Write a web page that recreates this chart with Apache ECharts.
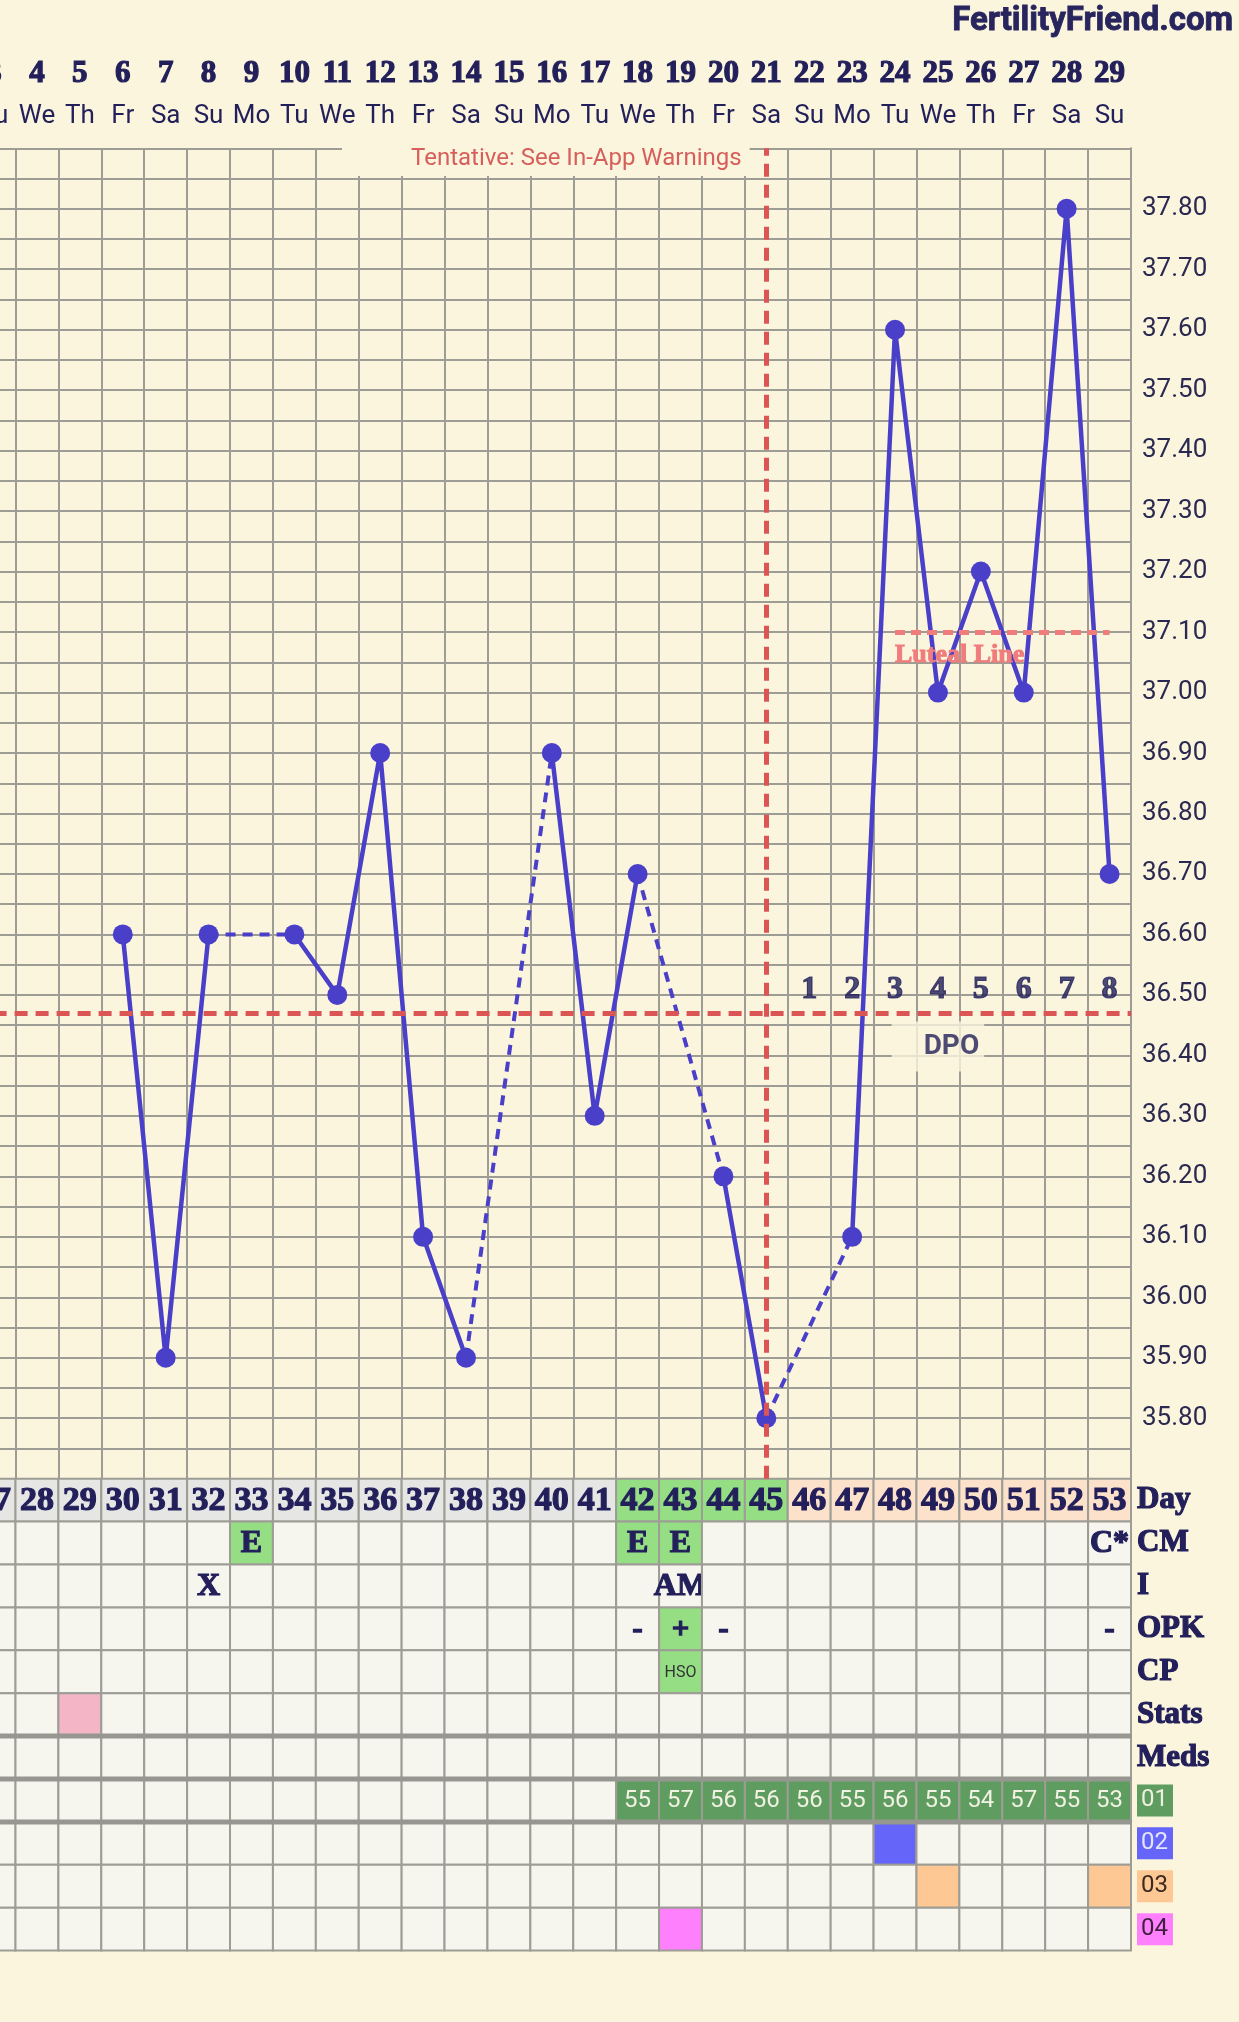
<!DOCTYPE html>
<html>
<head>
<meta charset="utf-8">
<title>Fertility chart</title>
<script src="https://cdn.jsdelivr.net/npm/echarts@6/dist/echarts.min.js"></script>
<style>
  html, body { margin: 0; padding: 0; background: #faf5dc; }
  #chart { width: 1239px; height: 2022px; }
</style>
</head>
<body>
<div id="chart"></div>
<script>
// cycle days on screen (day 27 is cut by the left edge)
const cycleDays = ['27', '28', '29', '30', '31', '32', '33', '34', '35', '36', '37', '38', '39', '40',
  '41', '42', '43', '44', '45', '46', '47', '48', '49', '50', '51', '52', '53'];
const dates = ['3', '4', '5', '6', '7', '8', '9', '10', '11', '12', '13', '14', '15', '16',
  '17', '18', '19', '20', '21', '22', '23', '24', '25', '26', '27', '28', '29'];
const weekdays = ['Tu', 'We', 'Th', 'Fr', 'Sa', 'Su', 'Mo', 'Tu', 'We', 'Th', 'Fr', 'Sa', 'Su', 'Mo',
  'Tu', 'We', 'Th', 'Fr', 'Sa', 'Su', 'Mo', 'Tu', 'We', 'Th', 'Fr', 'Sa', 'Su'];
// temperatures, null = not recorded
const temps = [null, null, null, 36.6, 35.9, 36.6, null, 36.6, 36.5, 36.9, 36.1, 35.9, null, 36.9,
  36.3, 36.7, null, 36.2, 35.8, null, 36.1, 37.6, 37.0, 37.2, 37.0, 37.8, 36.7];

const coverline = 36.47;
const ovulationDay = 45;
const fertileStart = 42;
const lutealLevel = 37.1;
const lutealRange = ['48', '53'];

// table rows
const rowNames = ['Day', 'CM', 'I', 'OPK', 'CP', 'Stats', 'Meds', '01', '02', '03', '04'];
const cervicalMucus = [[33, 'E'], [42, 'E'], [43, 'E'], [53, 'C*']];
const intercourse = [[32, 'X'], [43, 'AM']];
const opk = [[42, '-'], [43, '+'], [44, '-'], [53, '-']];
const cervix = [[43, 'HSO']];
const statsDays = [29];
const med01 = [[42, 55], [43, 57], [44, 56], [45, 56], [46, 56], [47, 55], [48, 56], [49, 55],
  [50, 54], [51, 57], [52, 55], [53, 53]];
const med02 = [48];
const med03 = [49, 53];
const med04 = [43];

const navy = '#221f5a';
const gridColor = '#9d9d95';
const pageBg = '#faf5dc';
const cellBg = '#f6f6ef';
const green = '#95de84';
const blue = '#4a3fc9';
const serif = "'Liberation Serif', 'DejaVu Serif', serif";

const lookup = (list, day) => {
  const hit = list.find(e => e[0] === day);
  return hit ? hit[1] : null;
};

const cellFonts = {
  day: { font: 'bold 34px ' + serif, color: navy, stroke: 1.2 },
  big: { font: 'bold 32px ' + serif, color: navy, stroke: 1.2 },
  opk: { font: 'bold 30px ' + serif, color: navy, stroke: 1.5 },
  cp: { font: '16px Roboto', color: '#333333', stroke: 0 },
  med: { font: '24px Roboto', color: '#f1f2e4', stroke: 0 }
};

const cells = [];
cycleDays.forEach((d, i) => {
  const day = +d;
  const add = (row, fill, text, kind) => cells.push({ value: [i, row], fill, text, kind });
  add(0, day < fertileStart ? '#e6e6e4' : day <= ovulationDay ? green : '#fde2cb', d, 'day');
  const cm = lookup(cervicalMucus, day);
  add(1, cm === 'E' ? green : cellBg, cm, 'big');
  add(2, cellBg, lookup(intercourse, day), 'big');
  const o = lookup(opk, day);
  add(3, o === '+' ? green : cellBg, o, 'opk');
  const cp = lookup(cervix, day);
  add(4, cp ? green : cellBg, cp, 'cp');
  add(5, statsDays.includes(day) ? '#f4b5c6' : cellBg, null);
  add(6, cellBg, null);
  const m1 = lookup(med01, day);
  add(7, m1 != null ? '#5f9c5f' : cellBg, m1 != null ? String(m1) : null, 'med');
  add(8, med02.includes(day) ? '#6565fa' : cellBg, null);
  add(9, med03.includes(day) ? '#fec894' : cellBg, null);
  add(10, med04.includes(day) ? '#ff80fc' : cellBg, null);
});
const heavyTopRows = [6, 7, 8];

function renderCell(params, api) {
  const cell = cells[params.dataIndex];
  const c = api.coord([api.value(0), api.value(1)]);
  const s = api.size([1, 1]);
  const x0 = c[0] - s[0] / 2;
  const y0 = c[1] - s[1] / 2;
  const children = [{
    type: 'rect',
    shape: { x: x0, y: y0, width: s[0], height: s[1] },
    style: { fill: cell.fill, stroke: gridColor, lineWidth: 2 }
  }];
  if (cell.text) {
    const f = cellFonts[cell.kind];
    children.push({
      type: 'text',
      style: {
        text: cell.text, x: c[0], y: c[1] + 1, align: 'center', verticalAlign: 'middle',
        font: f.font, fill: f.color, stroke: f.stroke ? f.color : null, lineWidth: f.stroke
      }
    });
  }
  if (heavyTopRows.includes(cell.value[1])) {
    children.push({
      type: 'line',
      shape: { x1: x0 - 1, y1: y0, x2: x0 + s[0] + 1, y2: y0 },
      style: { stroke: '#979791', lineWidth: 5 }
    });
  }
  return { type: 'group', children };
}

// dashed joins across missing temperatures
const gapSeries = [];
for (let i = 1; i < temps.length - 1; i++) {
  if (temps[i] !== null || temps[i - 1] === null) continue;
  let j = i;
  while (j < temps.length && temps[j] === null) j++;
  if (j < temps.length) {
    gapSeries.push({
      type: 'line',
      xAxisIndex: 0,
      yAxisIndex: 0,
      z: 2,
      symbol: 'none',
      connectNulls: true,
      silent: true,
      data: temps.map((t, k) => (k === i - 1 || k === j ? t : null)),
      lineStyle: { color: blue, width: 4, type: [10, 7] }
    });
  }
}

const dpoDays = cycleDays.filter(d => +d > ovulationDay);

const chart = echarts.init(document.getElementById('chart'));
chart.setOption({
  backgroundColor: pageBg,
  animation: false,
  textStyle: { fontFamily: 'Roboto' },
  title: [
    {
      text: 'FertilityFriend.com', right: 5, top: 5, padding: 0,
      textStyle: {
        fontFamily: 'Roboto', fontWeight: 'bold', fontSize: 33, lineHeight: 33, color: '#27245e',
        textBorderColor: '#27245e', textBorderWidth: 0.8
      }
    },
    {
      text: 'Tentative: See In-App Warnings', left: 342, top: 145,
      backgroundColor: pageBg, padding: [1, 8, 4, 69],
      textStyle: { fontFamily: 'Roboto', fontWeight: 'normal', fontSize: 24, lineHeight: 26, color: '#d65f5c' }
    }
  ],
  grid: [
    { left: -27.4, top: 148.3, width: 1158.4, height: 1330.4, containLabel: false, outerBoundsMode: 'none' },
    { left: -27.4, top: 1478.7, width: 1158.4, height: 471.9, containLabel: false, outerBoundsMode: 'none' }
  ],
  xAxis: [
    {
      type: 'category', gridIndex: 0, data: cycleDays, position: 'top',
      axisLine: { show: false }, axisTick: { show: false },
      axisLabel: { interval: 0, margin: 19, formatter: (v, i) => weekdays[i], fontFamily: 'Roboto', fontSize: 26, color: navy },
      splitLine: { show: true, interval: 0, lineStyle: { color: gridColor, width: 2 } }
    },
    {
      type: 'category', gridIndex: 0, data: cycleDays, position: 'top',
      axisLine: { show: false }, axisTick: { show: false },
      axisLabel: {
        interval: 0, margin: 59, formatter: (v, i) => dates[i], fontFamily: serif, fontWeight: 'bold', fontSize: 31,
        color: navy, textBorderColor: navy, textBorderWidth: 1.2
      },
      splitLine: { show: false }
    },
    { type: 'category', gridIndex: 1, data: cycleDays, show: false }
  ],
  yAxis: [
    {
      type: 'value', gridIndex: 0, min: 35.7, max: 37.9, interval: 0.05, position: 'right',
      axisLine: { show: true, lineStyle: { color: gridColor, width: 2 } },
      axisTick: { show: false },
      axisLabel: {
        margin: 11, fontFamily: 'Roboto', fontSize: 26, color: '#2b2952',
        formatter: v => {
          const k = Math.round(v * 100);
          return k % 10 === 0 && k >= 3580 && k <= 3780 ? (k / 100).toFixed(2) : '';
        }
      },
      splitLine: { show: true, lineStyle: { color: gridColor, width: 2 } }
    },
    {
      type: 'category', gridIndex: 1, data: rowNames, inverse: true, position: 'right',
      axisLine: { show: false }, axisTick: { show: false }, splitLine: { show: false },
      axisLabel: {
        interval: 0, margin: 6,
        formatter: v => (v.charAt(0) === '0' ? '{m' + v + '|' + v + '}' : '{h|' + v + '}'),
        rich: {
          h: { fontFamily: serif, fontWeight: 'bold', fontSize: 31, color: navy, textBorderColor: navy, textBorderWidth: 1.2 },
          m01: { fontFamily: 'Roboto', fontSize: 24, color: '#eef0e0', backgroundColor: '#5f9c5f', padding: [4, 5, 4, 4] },
          m02: { fontFamily: 'Roboto', fontSize: 24, color: '#e4e4ff', backgroundColor: '#6565fa', padding: [4, 5, 4, 4] },
          m03: { fontFamily: 'Roboto', fontSize: 24, color: '#3b2a1f', backgroundColor: '#fec894', padding: [4, 5, 4, 4] },
          m04: { fontFamily: 'Roboto', fontSize: 24, color: '#3e1f40', backgroundColor: '#ff80fc', padding: [4, 5, 4, 4] }
        }
      }
    }
  ],
  series: [
    {
      // reference lines
      type: 'line', xAxisIndex: 0, yAxisIndex: 0, z: 1, silent: true,
      data: cycleDays.map(() => null),
      markLine: {
        silent: true, symbol: ['none', 'none'], animation: false,
        label: { show: false },
        data: [
          { xAxis: String(ovulationDay), lineStyle: { color: '#dc5555', width: 5, type: [13, 8] } },
          { yAxis: coverline, lineStyle: { color: '#dc5555', width: 5, type: [13, 8] } },
          [
            {
              coord: [lutealRange[0], lutealLevel],
              lineStyle: { color: '#f07c7c', width: 5, type: [10, 6] },
              label: {
                show: true, formatter: 'Luteal Line', position: 'insideStartBottom', distance: [0, 10],
                color: '#f07c7c', fontFamily: serif, fontWeight: 'bold', fontSize: 26,
                textBorderColor: '#f07c7c', textBorderWidth: 1
              }
            },
            { coord: [lutealRange[1], lutealLevel] }
          ]
        ]
      }
    },
    ...gapSeries,
    {
      type: 'line', xAxisIndex: 0, yAxisIndex: 0, z: 3,
      data: temps, connectNulls: false,
      symbol: 'circle', symbolSize: 20,
      itemStyle: { color: blue },
      lineStyle: { color: blue, width: 4.5 }
    },
    {
      // DPO counters above the coverline
      type: 'scatter', xAxisIndex: 0, yAxisIndex: 0, z: 4, silent: true,
      symbolSize: 1, itemStyle: { color: 'transparent' },
      data: dpoDays.map(d => [d, coverline]),
      label: {
        show: true, position: 'top', distance: 7,
        formatter: p => String(p.dataIndex + 1),
        fontFamily: serif, fontWeight: 'bold', fontSize: 32, color: navy,
        textBorderColor: navy, textBorderWidth: 1.2
      }
    },
    {
      type: 'scatter', xAxisIndex: 0, yAxisIndex: 0, z: 4, silent: true,
      symbolSize: 1, itemStyle: { color: 'transparent' },
      data: [[dpoDays[Math.floor((dpoDays.length - 1) / 2)], coverline]],
      label: {
        show: true, position: 'bottom', distance: 8, formatter: 'DPO',
        fontFamily: 'Roboto', fontWeight: 'bold', fontSize: 28, lineHeight: 32, color: navy,
        backgroundColor: pageBg, padding: [9, 5, 9, 32]
      }
    },
    {
      type: 'custom', xAxisIndex: 2, yAxisIndex: 1, silent: true,
      renderItem: renderCell,
      data: cells.map(c => c.value)
    }
  ]
});
</script>
</body>
</html>
